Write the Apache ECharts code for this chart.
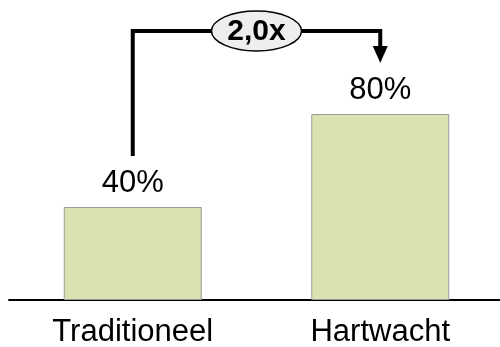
<!DOCTYPE html>
<html>
<head>
<meta charset="utf-8">
<script src="https://cdn.jsdelivr.net/npm/echarts@6/dist/echarts.min.js"></script>
<style>
  html, body { margin: 0; padding: 0; background: #ffffff; }
  #chart { width: 500px; height: 347px; }
</style>
</head>
<body>
<div id="chart"></div>
<script>
// Share of cases, traditional approach vs. Hartwacht
const categories = ['Traditioneel', 'Hartwacht'];
const values = [40, 80];
const valueLabels = ['40%', '80%'];
const ratioLabel = '2,0x';

const FONT = '"Liberation Sans", Arial, sans-serif';
const chart = echarts.init(document.getElementById('chart'), null, { renderer: 'canvas' });

chart.setOption({
  animation: false,
  backgroundColor: '#ffffff',
  grid: { left: 9, width: 495, top: 67.5, bottom: 47, containLabel: false, outerBoundsMode: 'none' },
  xAxis: {
    type: 'category',
    data: categories,
    axisLine: { lineStyle: { color: '#000000', width: 2 } },
    axisTick: { show: false },
    axisLabel: { color: '#000000', fontFamily: FONT, fontSize: 31, margin: 17 }
  },
  yAxis: {
    type: 'value',
    min: 0,
    max: 100,
    show: false
  },
  series: [{
    type: 'bar',
    data: values,
    barWidth: 138,
    itemStyle: { color: '#dbe1af', borderColor: '#9a9a9a', borderWidth: 1 },
    label: {
      show: true,
      position: 'top',
      distance: 8,
      color: '#000000',
      fontFamily: FONT,
      fontSize: 31,
      formatter: p => valueLabels[p.dataIndex]
    }
  }]
});

// Bracket from the first bar up and over to an arrow above the second bar
function drawBracket() {
  const a = chart.convertToPixel({ seriesIndex: 0 }, [0, values[0]]);
  const b = chart.convertToPixel({ seriesIndex: 0 }, [1, values[1]]);
  const gap = 51;          // clearance above each bar for its value label
  const topY = 31;         // height of the horizontal run
  const headH = 17, headW = 15;
  const tipY = b[1] - gap;
  const midX = (a[0] + b[0]) / 2;
  const line = { stroke: '#000000', lineWidth: 4, fill: null };

  chart.setOption({
    graphic: [
      {
        type: 'polyline',
        shape: { points: [[a[0], a[1] - gap], [a[0], topY], [b[0], topY], [b[0], tipY - headH + 1]] },
        style: line
      },
      {
        type: 'polygon',
        shape: { points: [[b[0] - headW / 2, tipY - headH], [b[0] + headW / 2, tipY - headH], [b[0], tipY]] },
        style: { fill: '#000000' }
      },
      {
        type: 'ellipse',
        shape: { cx: midX, cy: topY, rx: 45, ry: 20 },
        style: { fill: '#eeeeee', stroke: '#000000', lineWidth: 1.5 }
      },
      {
        type: 'text',
        x: midX,
        y: topY + 1,
        style: {
          text: ratioLabel,
          fill: '#000000',
          font: 'bold 30px ' + FONT,
          align: 'center',
          verticalAlign: 'middle'
        }
      }
    ]
  });
}
drawBracket();
</script>
</body>
</html>
